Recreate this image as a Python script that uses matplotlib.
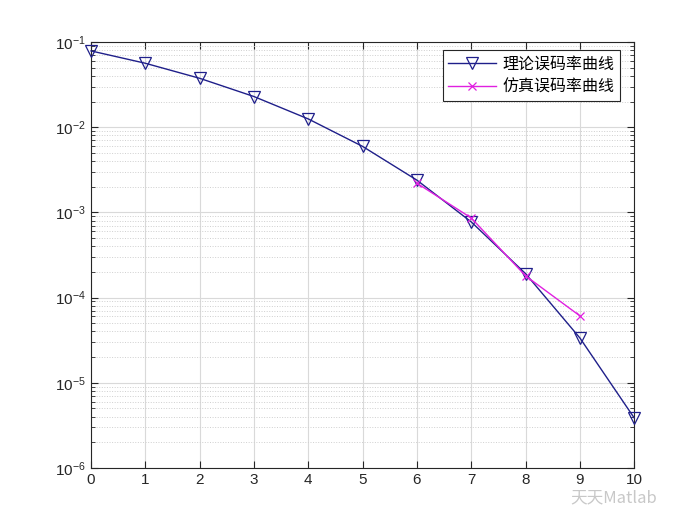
import matplotlib.pyplot as plt
import numpy as np

plt.rcParams['font.family'] = ['Liberation Sans', 'Noto Sans CJK SC', 'DejaVu Sans']

# Eb/N0 (dB) and bit error rates
snr = [0, 1, 2, 3, 4, 5, 6, 7, 8, 9, 10]
ber_theory = [0.0786, 0.0563, 0.0375, 0.0229, 0.0125, 0.00595,
              0.00239, 0.000773, 0.000191, 3.36e-5, 3.87e-6]
snr_sim = [6, 7, 8, 9]
ber_sim = [0.0022, 0.00086, 0.00018, 6.1e-5]

fig = plt.figure(figsize=(7, 5.25), dpi=100)
ax = fig.add_axes([0.13, 0.1086, 0.776, 0.8114])

ax.semilogy(snr, ber_theory, color='#1f1f8a', lw=1.0, marker='v', ms=8,
            mfc='none', mec='#1f1f8a', mew=0.9, label='理论误码率曲线',
            clip_on=False, zorder=3)
ax.semilogy(snr_sim, ber_sim, color='#e020e0', lw=1.0, marker='x', ms=6,
            mew=0.9, label='仿真误码率曲线', zorder=4)

ax.set_xlim(0, 10)
ax.set_ylim(1e-6, 1e-1)
ax.set_xticks(range(0, 11))

ax.grid(True, which='major', color='#d9d9d9', lw=0.8, ls='-')
ax.grid(True, which='minor', axis='y', color='#cfcfcf', lw=0.7, ls=':')
ax.set_axisbelow(True)

ax.tick_params(which='both', direction='in', top=True, right=True,
               labelsize=11, colors='#262626')
ax.tick_params(which='major', length=5)
ax.tick_params(which='minor', length=3)
for s in ax.spines.values():
    s.set_color('#262626')
    s.set_linewidth(0.8)

leg = ax.legend(loc='upper right', fancybox=False,
                framealpha=1, edgecolor='#262626', borderpad=0.35,
                handlelength=3.0, handletextpad=0.4, labelspacing=0.35,
                bbox_to_anchor=(0.974, 0.981), borderaxespad=0,
                prop={'family': ['Noto Sans CJK SC', 'DejaVu Sans'], 'size': 11.5})
leg.get_frame().set_linewidth(0.8)

# watermark
fig.text(0.815, 0.052, '天天Matlab', fontsize=12, color='#c8c8c8',
         family=['Noto Sans CJK SC', 'DejaVu Sans'], ha='left', va='center')

fig.savefig('out.png', dpi=100)
